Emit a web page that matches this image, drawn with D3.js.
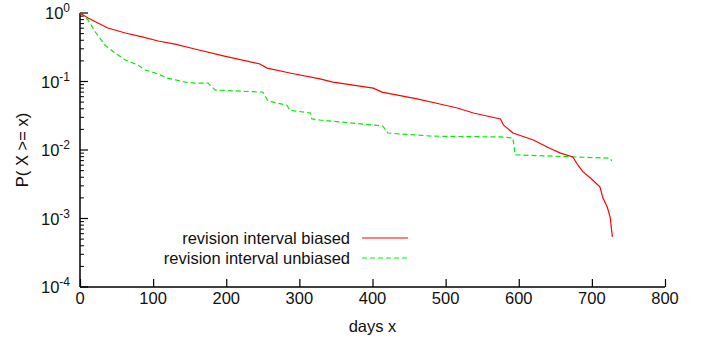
<!DOCTYPE html>
<html>
<head>
<meta charset="utf-8">
<script src="https://cdn.jsdelivr.net/npm/d3@7"></script>
<style>
  html, body { margin: 0; padding: 0; background: #fff; }
  svg text { font-family: "Liberation Sans", Arial, Helvetica, sans-serif; fill: #111; }
</style>
</head>
<body>
<svg id="chart" width="704" height="343"></svg>
<script>
// Complementary cumulative distribution of revision intervals (days)
const biasedDays = [0, 11, 38, 62, 85, 107, 130, 157, 196, 246, 256, 287, 328, 346, 401, 413, 461, 492, 516, 538, 575, 579, 592, 620, 643, 657, 674, 681, 688, 698, 711, 715, 721, 725, 728];
const biasedP    = [1.0, 0.845, 0.604, 0.51, 0.447, 0.39, 0.352, 0.298, 0.236, 0.18, 0.157, 0.133, 0.109, 0.098, 0.080, 0.070, 0.0556, 0.047, 0.041, 0.0347, 0.0284, 0.0232, 0.0177, 0.0140, 0.0105, 0.0090, 0.0079, 0.0060, 0.0048, 0.0039, 0.0029, 0.0020, 0.00147, 0.00105, 0.00054];

const unbiasedDays = [0, 11, 21, 34, 48, 62, 79, 89, 103, 120, 144, 157, 175, 185, 250, 257, 283, 287, 315, 317, 328, 414, 421, 483, 575, 592, 595, 725, 727];
const unbiasedP    = [1.0, 0.79, 0.528, 0.34, 0.26, 0.206, 0.174, 0.147, 0.133, 0.112, 0.098, 0.095, 0.095, 0.075, 0.070, 0.052, 0.045, 0.038, 0.0347, 0.0284, 0.0274, 0.0224, 0.0177, 0.0159, 0.0155, 0.015, 0.0085, 0.0076, 0.0069];

const xTicks = [0, 100, 200, 300, 400, 500, 600, 700, 800];
const yExponents = [0, -1, -2, -3, -4];
const seriesNames = ["revision interval biased", "revision interval unbiased"];

const svg = d3.select("#chart");
const margin = { left: 80, right: 39, top: 13, bottom: 56 };
const W = 704, H = 343;
const FS = 16.5;

const x = d3.scaleLinear().domain([0, 800]).range([margin.left, W - margin.right]);
const y = d3.scaleLog().domain([1e-4, 1]).range([H - margin.bottom, margin.top]);

// Axes with inward-facing ticks
const xAxis = d3.axisTop(x).tickValues(xTicks).tickSize(8).tickFormat("");
const gx = svg.append("g").attr("transform", `translate(0,${y(1e-4)})`).call(xAxis);
gx.select(".domain").attr("stroke", "#000").attr("stroke-width", 1.5).attr("d", `M${x(0)},0H${x(800)}`);
gx.selectAll(".tick line").attr("stroke", "#000").attr("stroke-width", 1.2);

svg.append("g").selectAll("text").data(xTicks).join("text")
  .attr("x", d => x(d)).attr("y", y(1e-4) + 17)
  .attr("text-anchor", "middle").attr("font-size", FS)
  .text(d => d);

// Log axis: major ticks per decade plus minor ticks 2..9
const minor = [];
for (let e = -4; e < 0; e++) for (let k = 2; k <= 9; k++) minor.push(k * Math.pow(10, e));
const gy = svg.append("g").attr("transform", `translate(${x(0)},0)`);
gy.append("line").attr("x1", 0).attr("x2", 0).attr("y1", y(1e-4)).attr("y2", y(1))
  .attr("stroke", "#000").attr("stroke-width", 1.5);
gy.selectAll("line.major").data(yExponents).join("line").attr("class", "major")
  .attr("x1", 0).attr("x2", 8).attr("y1", d => y(Math.pow(10, d))).attr("y2", d => y(Math.pow(10, d)))
  .attr("stroke", "#000").attr("stroke-width", 1.2);
gy.selectAll("line.minor").data(minor).join("line").attr("class", "minor")
  .attr("x1", 0).attr("x2", 4).attr("y1", d => y(d)).attr("y2", d => y(d))
  .attr("stroke", "#000").attr("stroke-width", 1);

const yl = svg.append("g").selectAll("text").data(yExponents).join("text")
  .attr("x", x(0) - 10).attr("y", d => y(Math.pow(10, d)) + 6)
  .attr("text-anchor", "end").attr("font-size", FS);
yl.append("tspan").text("10");
yl.append("tspan").attr("dy", -7).attr("font-size", 12).text(d => d);

// Axis titles
svg.append("text").attr("x", (x(0) + x(800)) / 2).attr("y", 332)
  .attr("text-anchor", "middle").attr("font-size", FS).text("days x");
svg.append("text").attr("transform", `translate(28,${(y(1) + y(1e-4)) / 2}) rotate(-90)`)
  .attr("text-anchor", "middle").attr("font-size", FS).text("P( X >= x)");

// Curves
const line = d3.line().x(d => x(d[0])).y(d => y(d[1]));
const biased = biasedDays.map((d, i) => [d, biasedP[i]]);
const unbiased = unbiasedDays.map((d, i) => [d, unbiasedP[i]]);
const colors = ["#ff0000", "#00ee00"];
const dashes = [null, "5,3"];

svg.append("path").datum(unbiased).attr("d", line)
  .attr("fill", "none").attr("stroke", colors[1]).attr("stroke-width", 1.2).attr("stroke-dasharray", dashes[1]);
svg.append("path").datum(biased).attr("d", line)
  .attr("fill", "none").attr("stroke", colors[0]).attr("stroke-width", 1.2);

// Legend
const lg = svg.append("g");
seriesNames.forEach((name, i) => {
  const ly = 238 + i * 20;
  lg.append("text").attr("x", 350).attr("y", ly + 6).attr("text-anchor", "end").attr("font-size", FS).text(name);
  lg.append("line").attr("x1", 362).attr("x2", 408).attr("y1", ly).attr("y2", ly)
    .attr("stroke", colors[i]).attr("stroke-width", 1.2).attr("stroke-dasharray", dashes[i]);
});
</script>
</body>
</html>
